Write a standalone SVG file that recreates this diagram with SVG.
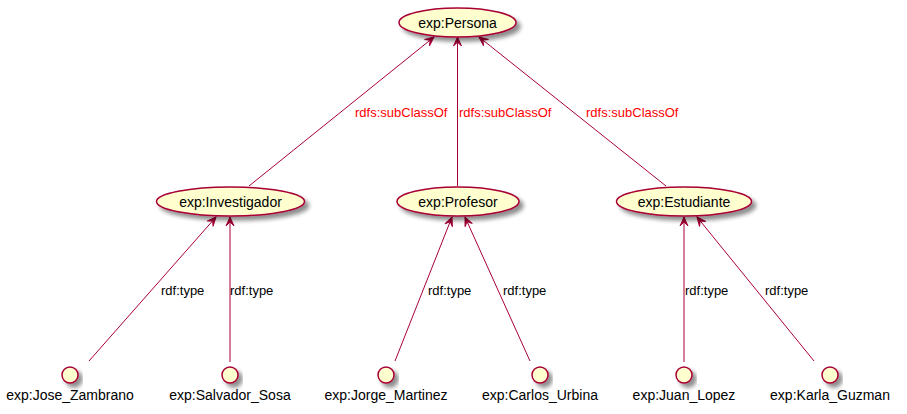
<svg xmlns="http://www.w3.org/2000/svg" width="907" height="414" viewBox="0 0 907 414">
<defs>
<filter id="sh" x="-20%" y="-30%" width="150%" height="190%">
<feGaussianBlur in="SourceAlpha" stdDeviation="2"/>
<feOffset dx="4" dy="4" result="b"/>
<feComponentTransfer><feFuncA type="linear" slope="0.45"/></feComponentTransfer>
<feMerge><feMergeNode/><feMergeNode in="SourceGraphic"/></feMerge>
</filter>
<marker id="ar" viewBox="-10 -5 11 10" refX="0" refY="0" markerWidth="11" markerHeight="10" markerUnits="userSpaceOnUse" orient="auto">
<path d="M0,0 L-9,-4 L-5,0 L-9,4 Z" fill="#A80036" stroke="#A80036" stroke-width="1"/>
</marker>
</defs>
<style>
.n{fill:#FEFECE;stroke:#A80036;stroke-width:1.5;filter:url(#sh)}
.t{font-family:"Liberation Sans",Arial,sans-serif;font-size:14px;fill:#000}
.e{stroke:#A80036;stroke-width:1;fill:none;marker-end:url(#ar)}
.l{font-family:"Liberation Sans",Arial,sans-serif;font-size:13px}
.r{fill:#FF0000}
.k{fill:#000}
</style>
<rect width="907" height="414" fill="#FFFFFF"/>
<g id="edges">
<line class="e" x1="249" y1="186" x2="434" y2="37"/>
<line class="e" x1="457.5" y1="186" x2="457.5" y2="37"/>
<line class="e" x1="666" y1="186" x2="479" y2="37"/>
<line class="e" x1="89" y1="361" x2="216" y2="217"/>
<line class="e" x1="230" y1="362" x2="230" y2="217"/>
<line class="e" x1="395" y1="361" x2="452" y2="217"/>
<line class="e" x1="530" y1="361" x2="465" y2="217"/>
<line class="e" x1="684" y1="362" x2="684" y2="217"/>
<line class="e" x1="814" y1="361" x2="697" y2="217"/>
<text class="l r" x="355" y="117">rdfs:subClassOf</text>
<text class="l r" x="459" y="117">rdfs:subClassOf</text>
<text class="l r" x="586" y="117">rdfs:subClassOf</text>
<text class="l k" x="161" y="295">rdf:type</text>
<text class="l k" x="230" y="295">rdf:type</text>
<text class="l k" x="428" y="295">rdf:type</text>
<text class="l k" x="503" y="295">rdf:type</text>
<text class="l k" x="685" y="295">rdf:type</text>
<text class="l k" x="765" y="295">rdf:type</text>
</g>
<g id="persona"><ellipse class="n" cx="457.5" cy="22.5" rx="58.5" ry="14.5"/><text class="t" x="457.5" y="27.5" text-anchor="middle">exp:Persona</text></g>
<g id="investigador"><ellipse class="n" cx="230.5" cy="201.5" rx="74" ry="14.5"/><text class="t" x="230.5" y="206.5" text-anchor="middle">exp:Investigador</text></g>
<g id="profesor"><ellipse class="n" cx="458" cy="201.5" rx="61" ry="14.5"/><text class="t" x="458" y="206.5" text-anchor="middle">exp:Profesor</text></g>
<g id="estudiante"><ellipse class="n" cx="684" cy="201.5" rx="67.5" ry="14.5"/><text class="t" x="684" y="206.5" text-anchor="middle">exp:Estudiante</text></g>
<g id="jose"><circle class="n" cx="70" cy="375" r="8"/><text class="t" x="70" y="400" text-anchor="middle">exp:Jose_Zambrano</text></g>
<g id="salvador"><circle class="n" cx="230" cy="375" r="8"/><text class="t" x="230" y="400" text-anchor="middle">exp:Salvador_Sosa</text></g>
<g id="jorge"><circle class="n" cx="386" cy="375" r="8"/><text class="t" x="386" y="400" text-anchor="middle">exp:Jorge_Martinez</text></g>
<g id="carlos"><circle class="n" cx="540" cy="375" r="8"/><text class="t" x="540" y="400" text-anchor="middle">exp:Carlos_Urbina</text></g>
<g id="juan"><circle class="n" cx="684" cy="375" r="8"/><text class="t" x="684" y="400" text-anchor="middle">exp:Juan_Lopez</text></g>
<g id="karla"><circle class="n" cx="830" cy="375" r="8"/><text class="t" x="830" y="400" text-anchor="middle">exp:Karla_Guzman</text></g>
</svg>
